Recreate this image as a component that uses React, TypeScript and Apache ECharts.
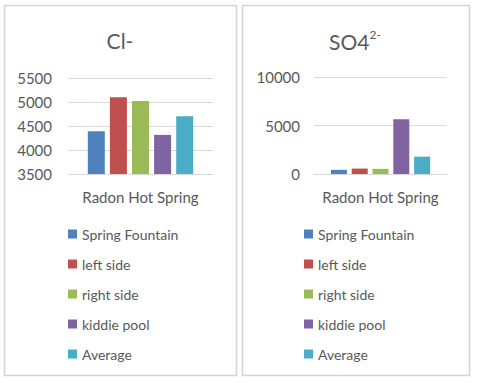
import React, { useEffect, useRef } from "react";
import * as echarts from "echarts";

const categories = ["Radon Hot Spring"];
const seriesNames = ["Spring Fountain", "left side", "right side", "kiddie pool", "Average"];
const clValues = [4390, 5100, 5020, 4315, 4705];
const so4Values = [430, 560, 530, 5650, 1790];
const colors = ["#4F81BD", "#C0504D", "#9BBB59", "#8064A2", "#4BACC6"];
const clAxis = { min: 3500, max: 5500, interval: 500 };
const so4Axis = { min: 0, max: 10000, interval: 5000 };

const FONT = "Lato";
const GRAY = "#595959";

export default function App() {
  const ref = useRef<HTMLDivElement>(null);
  useEffect(() => {
    if (!ref.current) return;
    const chart = echarts.init(ref.current, undefined, { renderer: "svg" });
    const series: any[] = [];
    seriesNames.forEach((name, i) => {
      series.push({
        type: "bar",
        name,
        xAxisIndex: 0,
        yAxisIndex: 0,
        data: [clValues[i]],
        barWidth: 17,
        barGap: "30%",
        itemStyle: { color: colors[i] },
      });
      series.push({
        type: "bar",
        name,
        xAxisIndex: 1,
        yAxisIndex: 1,
        data: [so4Values[i]],
        barWidth: 16,
        barGap: "30%",
        itemStyle: { color: colors[i] },
      });
    });
    const catAxis = (gridIndex: number) => ({
      type: "category",
      gridIndex,
      data: categories,
      axisTick: { show: false },
      axisLine: { show: true, lineStyle: { color: "#d9d9d9", width: 1 } },
      axisLabel: { color: GRAY, fontFamily: FONT, fontSize: 15, margin: 15 },
    });
    const valAxis = (gridIndex: number, cfg: any, margin: number) => ({
      type: "value",
      gridIndex,
      min: cfg.min,
      max: cfg.max,
      interval: cfg.interval,
      axisLine: { show: false },
      axisTick: { show: false },
      splitLine: { lineStyle: { color: "#d9d9d9", width: 1 } },
      axisLabel: {
        color: GRAY,
        fontFamily: FONT,
        fontSize: 15,
        margin,
        formatter: (v: number) => String(v),
      },
    });
    const legend = (left: number) => ({
      orient: "vertical",
      left,
      top: 226,
      padding: 0,
      data: seriesNames,
      itemWidth: 9,
      itemHeight: 9,
      itemGap: 14,
      icon: "rect",
      selectedMode: false,
      textStyle: { color: GRAY, fontFamily: FONT, fontSize: 14, lineHeight: 16 },
    });
    chart.setOption({
      animation: false,
      backgroundColor: "#ffffff",
      grid: [
        { left: 68, right: 267, top: 78, bottom: 209 },
        { left: 314, right: 33, top: 77, bottom: 209 },
      ],
      xAxis: [catAxis(0), catAxis(1)],
      yAxis: [valAxis(0, clAxis, 16), valAxis(1, so4Axis, 14)],
      legend: [legend(68), legend(304)],
      series,
      graphic: [
        {
          type: "rect",
          shape: { x: 4.5, y: 5.5, width: 232, height: 370 },
          style: { fill: "none", stroke: "#d4d4d4", lineWidth: 1.5 },
          silent: true,
        },
        {
          type: "rect",
          shape: { x: 242.5, y: 5.5, width: 227, height: 370 },
          style: { fill: "none", stroke: "#d4d4d4", lineWidth: 1.5 },
          silent: true,
        },
        {
          type: "text",
          x: 120,
          y: 40,
          style: {
            text: "Cl-",
            fill: GRAY,
            font: `21px ${FONT}`,
            align: "center",
            verticalAlign: "middle",
          },
        },
        {
          type: "text",
          x: 355,
          y: 40,
          style: {
            text: "{a|SO4}{b|2-}",
            align: "center",
            verticalAlign: "middle",
            rich: {
              a: { fontSize: 21, fontFamily: FONT, fill: GRAY, lineHeight: 24, verticalAlign: "bottom" },
              b: { fontSize: 12, fontFamily: FONT, fill: GRAY, lineHeight: 24, verticalAlign: "top", padding: [0, 0, 8, 0] },
            },
          },
        },
      ],
    });
    return () => chart.dispose();
  }, []);
  return (
    <div
      ref={ref}
      style={{ position: "absolute", left: 0, top: 0, width: 480, height: 383 }}
    />
  );
}
